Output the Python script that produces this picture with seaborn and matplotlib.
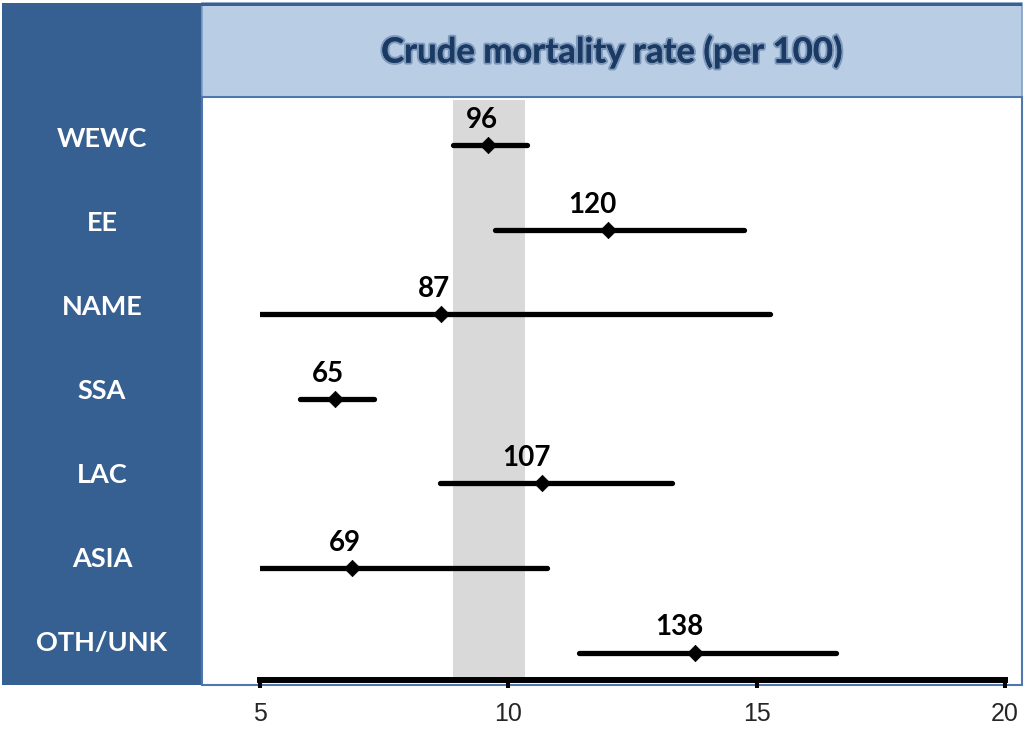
import numpy as np
import pandas as pd
import seaborn as sns
import matplotlib.pyplot as plt
import matplotlib.patheffects as pe
from matplotlib.patches import Rectangle

# Data
regions = ['WEWC', 'EE', 'NAME', 'SSA', 'LAC', 'ASIA', 'OTH/UNK']
rate_labels = ['96', '120', '87', '65', '107', '69', '138']
rate = [9.6, 12.0, 8.65, 6.5, 10.67, 6.85, 13.75]
ci_low = [8.88, 9.73, 5.0, 5.8, 8.62, 5.0, 11.42]
ci_high = [10.37, 14.74, 15.26, 7.29, 13.29, 10.77, 16.59]
overall_low, overall_high = 8.88, 10.33
xticks = [5, 10, 15, 20]

df = pd.DataFrame({'region': regions, 'rate': rate, 'lo': ci_low, 'hi': ci_high,
                   'label': rate_labels})
df['pos'] = np.arange(len(df))

sns.set_theme(style='white')
plt.rcParams['font.family'] = ['Lato', 'DejaVu Sans']

W, H = 1025, 732
fig = plt.figure(figsize=(W / 100, H / 100), dpi=100)


def px_rect(x0, y0, x1, y1):
    # pixel box (top-left origin) -> figure fraction [left, bottom, width, height]
    return [x0 / W, 1 - y1 / H, (x1 - x0) / W, (y1 - y0) / H]


def fig_box(x0, y0, x1, y1, **kw):
    l, b, w, h = px_rect(x0, y0, x1, y1)
    fig.add_artist(Rectangle((l, b), w, h, transform=fig.transFigure, zorder=-1, **kw))


# background panels (behind the axes)
fig_box(2, 3, 202, 685, facecolor='#376092', edgecolor='none')
fig_box(202, 3, 1022, 97, facecolor='#B9CDE5', edgecolor='#7F9DC6', lw=1.2)
fig_box(202, 97, 1022, 685, facecolor='white', edgecolor='#4F76AE', lw=1.5)
fig_box(2, 3, 1022, 6, facecolor='#3B5F8F', edgecolor='none')

# row labels in the left panel
lp = fig.add_axes(px_rect(2, 97, 202, 685))
lp.set_axis_off()
lp.set_xlim(0, 1)
lp.set_ylim(len(regions), 0)
for i, r in enumerate(regions):
    lp.text(0.5, i + 0.5, r, ha='center', va='center', color='white',
            fontsize=19.5, fontweight='bold')

# header title
fig.text(612 / W, 1 - 52 / H, 'Crude mortality rate (per 100)', ha='center', va='center',
         fontsize=25, fontweight='bold', color='#1B3A63',
         path_effects=[pe.withStroke(linewidth=3, foreground='#4E6E98', alpha=0.55),
                       pe.Normal()])

# main plot
ax = fig.add_axes(px_rect(202, 97, 1022, 680))
ax.patch.set_alpha(0)
scale = (1005 - 260) / 15
ax.set_xlim(5 - (260 - 202) / scale, 20 + (1022 - 1005) / scale)
row0, step = 145.5, 84.5
ax.set_ylim((680 - row0) / step, (97 - row0) / step)

ax.axvspan(overall_low, overall_high, ymin=0, ymax=1 - 3 / 583, color='#D9D9D9', lw=0, zorder=0)

lines = ax.hlines(df['pos'], df['lo'], df['hi'], color='black', lw=3.8, zorder=2)
lines.set_capstyle('round')
lines.set_clip_path(Rectangle((5, -1), 16, 10, transform=ax.transData))

sns.scatterplot(data=df, x='rate', y='pos', marker='D', s=70, color='black',
                edgecolor='black', linewidth=0.5, zorder=3, ax=ax, legend=False)

for _, row in df.iterrows():
    ax.annotate(row['label'], (row['rate'], row['pos']), xytext=(6.5, 12.5),
                textcoords='offset points', ha='right', va='baseline',
                fontsize=20, fontweight='bold', color='black')

for s in ['top', 'left', 'right']:
    ax.spines[s].set_visible(False)
ax.spines['bottom'].set_color('black')
ax.spines['bottom'].set_linewidth(4.3)
ax.spines['bottom'].set_bounds(5, 20)
ax.spines['bottom'].set_capstyle('projecting')
ax.set_xticks(xticks)
ax.set_xticklabels([str(t) for t in xticks], fontfamily=['Liberation Sans', 'DejaVu Sans'])
ax.tick_params(axis='x', direction='out', length=5.8, width=2.9, color='black',
               labelsize=18, pad=10, bottom=True)
ax.set_yticks([])
ax.set_xlabel('')
ax.set_ylabel('')

fig.savefig('out.png', dpi=100)
